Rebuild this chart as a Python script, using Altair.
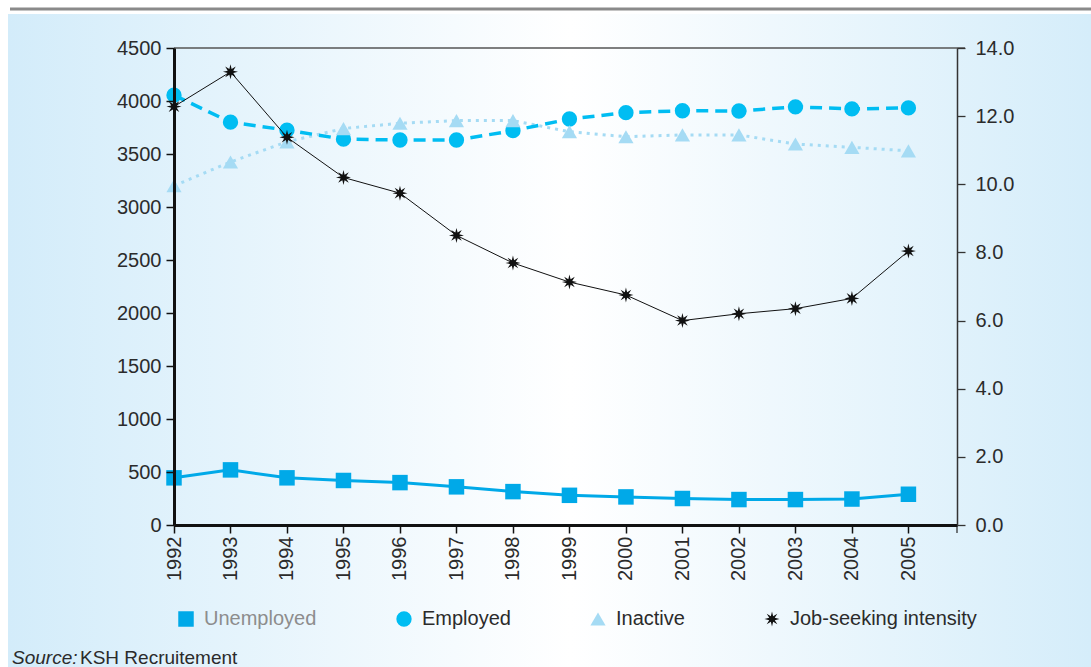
import math
import altair as alt
import pandas as pd

# ---------------- data ----------------
years = list(range(1992, 2006))
unemployed = [445, 520, 445, 420, 400, 360, 315, 280, 265, 250, 240, 240, 245, 290]
employed = [4055, 3800, 3725, 3640, 3632, 3632, 3720, 3830, 3890, 3908, 3906, 3945, 3925, 3935]
inactive = [3200, 3425, 3615, 3740, 3790, 3815, 3815, 3710, 3663, 3680, 3680, 3594, 3563, 3530]
job_seeking = [12.28, 13.30, 11.38, 10.20, 9.74, 8.50, 7.69, 7.13, 6.75, 6.00, 6.20, 6.35, 6.65, 8.04]

series_names = ["Unemployed", "Employed", "Inactive", "Job-seeking intensity"]
series_colors = ["#00a9e8", "#00bdf2", "#a5dbf4", "#111111"]
left_ticks = list(range(0, 4501, 500))
right_ticks = [0, 2, 4, 6, 8, 10, 12, 14]
source_label = ["Source:", "KSH Recruitement"]

# ---------------- styling ----------------
FONT = "Liberation Sans, Arial, sans-serif"
FS = 20
W, H = 783, 477
X_END = 2005.86

pts = []
for k in range(16):
    a = math.pi * k / 8
    r = 1.0 if k % 2 == 0 else 0.4
    pts.append(f"{r * math.sin(a):.3f},{-r * math.cos(a):.3f}")
star_path = "M" + " L".join(pts) + " Z"

shapes = ["square", "circle", "triangle-up", star_path]
sizes = [240, 225, 290, 330]

left_df = pd.DataFrame({
    "year": years * 3,
    "value": unemployed + employed + inactive,
    "series": ["Unemployed"] * 14 + ["Employed"] * 14 + ["Inactive"] * 14,
})
right_df = pd.DataFrame({"year": years, "value": job_seeking,
                         "series": ["Job-seeking intensity"] * 14})

x_axis = alt.Axis(values=years, format="d", labelAngle=270, tickSize=8, tickColor="#111",
                  tickWidth=1.5, domainColor="#111", domainWidth=3, labelFontSize=FS,
                  labelColor="#2b2b2b", labelPadding=3, labelOverlap=False, labelFlush=False,
                  grid=False, title=None, zindex=1, labelFont=FONT)
x_enc = alt.X("year:Q", scale=alt.Scale(domain=[1992, X_END], nice=False, zero=False), axis=x_axis)

left_axis = alt.Axis(values=left_ticks, orient="left", format="d", tickSize=8, tickColor="#111",
                     tickWidth=1.5, domainColor="#111", domainWidth=3, labelFontSize=FS,
                     labelColor="#2b2b2b", labelPadding=5, labelOverlap=False, labelFlush=False,
                     grid=False, title=None, zindex=1, labelFont=FONT)
right_axis = alt.Axis(values=right_ticks, orient="right", format=".1f", tickSize=8, tickColor="#333",
                      tickWidth=1.3, domainColor="#333", domainWidth=1.5, labelFontSize=FS,
                      labelColor="#2b2b2b", labelPadding=10, labelOverlap=False, labelFlush=False,
                      grid=False, title=None, zindex=1, labelFont=FONT)

legend = alt.Legend(title=None, orient="none", legendX=2, legendY=561, direction="horizontal",
                    columns=4, columnPadding=77, labelFontSize=FS, labelFont=FONT, labelLimit=400,
                    labelColor={"expr": "datum.label === 'Unemployed' ? '#8d8d8d' : '#2b2b2b'"},
                    symbolStrokeWidth=0, labelOffset=8, zindex=1)

color_enc = alt.Color("series:N", scale=alt.Scale(domain=series_names, range=series_colors), legend=legend)
shape_enc = alt.Shape("series:N", scale=alt.Scale(domain=series_names, range=shapes), legend=legend)
size_enc = alt.Size("series:N", scale=alt.Scale(domain=series_names, range=sizes), legend=legend)

# background panel + decorative lines
bg = alt.Chart(pd.DataFrame({"a": [0]})).mark_rect(
    color=alt.LinearGradient(gradient="linear", x1=0, x2=1, y1=0, y2=0, stops=[
        alt.GradientStop(offset=0, color="#d3ecfa"),
        alt.GradientStop(offset=0.52, color="#ffffff"),
        alt.GradientStop(offset=1, color="#d5edfa"),
    ])
).encode(x=alt.value(-166), x2=alt.value(917), y=alt.value(-34), y2=alt.value(619))

top_bar = alt.Chart(pd.DataFrame({"a": [0]})).mark_rule(color="#8a8a8a", strokeWidth=3).encode(
    x=alt.value(-164), x2=alt.value(917), y=alt.value(-39))
top_border = alt.Chart(pd.DataFrame({"a": [0]})).mark_rule(color="#555", strokeWidth=1.3).encode(
    x=alt.value(0), x2=alt.value(W + 8), y=alt.value(0))
end_tick = alt.Chart(pd.DataFrame({"a": [0]})).mark_rule(color="#333", strokeWidth=1.3).encode(
    x=alt.value(W), y=alt.value(H), y2=alt.value(H + 8))

src_df = pd.DataFrame({"t": source_label})
src1 = alt.Chart(src_df[src_df.t == source_label[0]]).mark_text(
    align="left", baseline="alphabetic", fontSize=19, font=FONT, fontStyle="italic", color="#2b2b2b"
).encode(x=alt.value(-162), y=alt.value(616), text="t:N")
src2 = alt.Chart(src_df[src_df.t == source_label[1]]).mark_text(
    align="left", baseline="alphabetic", fontSize=19, font=FONT, color="#2b2b2b"
).encode(x=alt.value(-94), y=alt.value(616), text="t:N")

base_left = alt.Chart(left_df)
y_left = alt.Y("value:Q", scale=alt.Scale(domain=[0, 4500], nice=False), axis=left_axis)

unemp_line = base_left.transform_filter("datum.series === 'Unemployed'").mark_line(
    color=series_colors[0], strokeWidth=3).encode(x=x_enc, y=y_left)
emp_line = base_left.transform_filter("datum.series === 'Employed'").mark_line(
    color=series_colors[1], strokeWidth=3.5, strokeDash=[12, 7]).encode(x=x_enc, y=y_left)
inact_line = base_left.transform_filter("datum.series === 'Inactive'").mark_line(
    color=series_colors[2], strokeWidth=3, strokeDash=[3, 5]).encode(x=x_enc, y=y_left)
left_pts = base_left.mark_point(filled=True, opacity=1).encode(
    x=x_enc, y=y_left, color=color_enc, shape=shape_enc, size=size_enc)

left_layer = alt.layer(inact_line, emp_line, unemp_line, left_pts)

base_right = alt.Chart(right_df)
y_right = alt.Y("value:Q", scale=alt.Scale(domain=[0, 14], nice=False), axis=right_axis)
job_line = base_right.mark_line(color="#111", strokeWidth=1).encode(x=x_enc, y=y_right)
job_pts = base_right.mark_point(filled=True, opacity=1).encode(
    x=x_enc, y=y_right, color=color_enc, shape=shape_enc, size=size_enc)
right_layer = alt.layer(job_line, job_pts)

chart = alt.layer(bg, top_bar, src1, src2, left_layer, right_layer, top_border, end_tick).resolve_scale(
    y="independent"
).properties(
    width=W, height=H,
    autosize=alt.AutoSizeParams(type="none"),
    padding={"left": 174, "top": 48, "right": 134, "bottom": 142},
    background="white",
).configure_view(stroke=None)

chart.save("out.html", embed_options={"renderer": "svg", "actions": False})
